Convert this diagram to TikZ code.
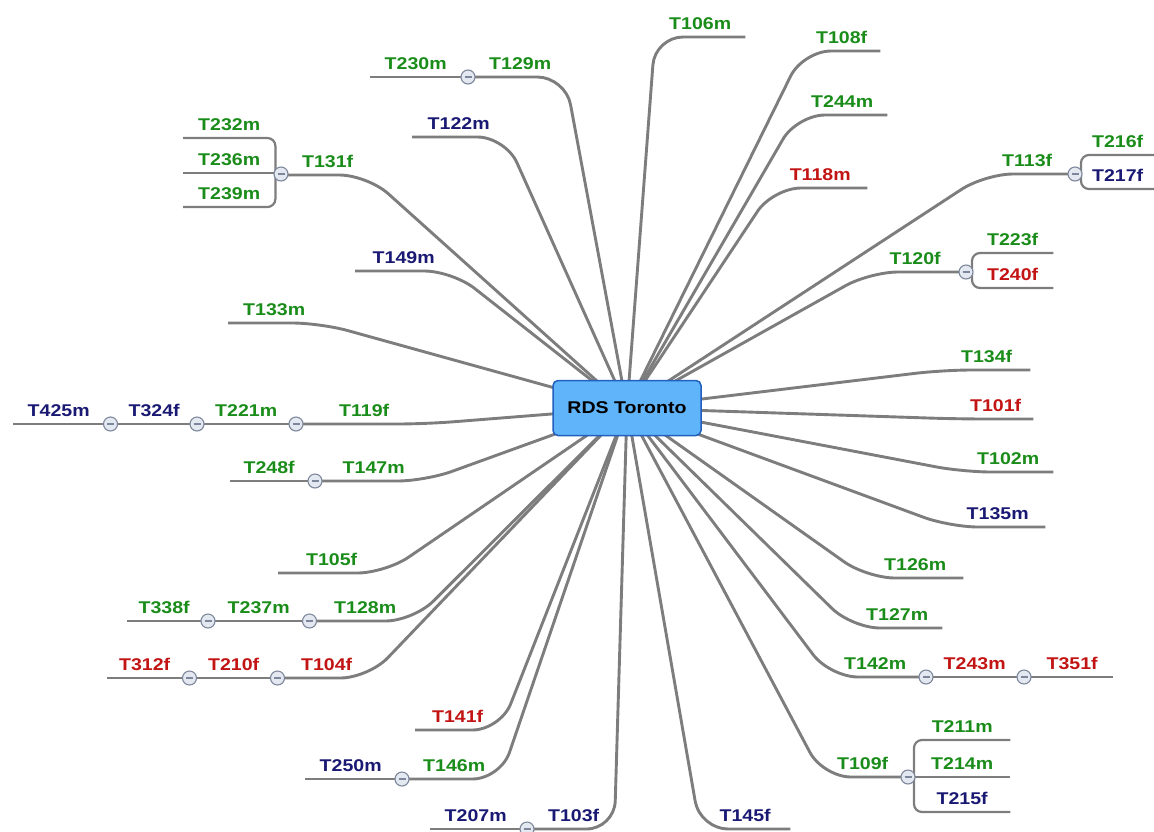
\documentclass[tikz,border=0pt]{standalone}
\usepackage{fontspec}
\setmainfont{Liberation Sans}[FakeStretch=1.15]
\usetikzlibrary{backgrounds}
\definecolor{tgreen}{RGB}{25,140,25}
\definecolor{tblue}{RGB}{25,25,115}
\definecolor{tred}{RGB}{195,20,20}
\definecolor{branchgray}{RGB}{125,125,125}
\definecolor{rootfill}{RGB}{95,180,250}
\definecolor{rootline}{RGB}{35,95,190}
\definecolor{foldfill}{RGB}{228,232,240}
\definecolor{foldline}{RGB}{125,135,155}
\begin{document}
\begin{tikzpicture}[x=1pt,y=-1pt,
    topic/.style={anchor=south west,inner xsep=0pt,inner ysep=7pt,minimum width=#1pt,
      font=\bfseries\fontsize{17}{20}\selectfont},
    tg/.style={text=tgreen}, tb/.style={text=tblue}, tr/.style={text=tred},
    branch/.style={draw=branchgray,line width=2.9pt,rounded corners=28pt,line join=round},
    twig/.style={draw=branchgray,line width=2.2pt,rounded corners=8pt},
    fold/.style={circle,draw=foldline,fill=foldfill,line width=1.1pt,minimum size=14pt,inner sep=0pt,
      path picture={\draw[foldline,line width=1.3pt] ([xshift=-3.5pt]path picture bounding box.center)
        -- ([xshift=3.5pt]path picture bounding box.center);}}]
    \useasboundingbox (0,0) rectangle (1154,831);
    \node[draw=rootline,fill=rootfill,line width=1.5pt,rounded corners=5pt,minimum width=148pt,
      minimum height=55pt,font=\bfseries\fontsize{17}{20}\selectfont] (root) at (627,408) {RDS Toronto};
    % right side
    \node[topic=90,tg] (t106) at (655,37) {T106m};
    \node[topic=77,tg] (t108) at (803,51) {T108f};
    \node[topic=90,tg] (t244) at (797,115) {T244m};
    \node[topic=94,tr] (t118) at (773,188) {T118m};
    \node[topic=84,tg] (t113) at (985,174) {T113f};
    \node[topic=73,tg] (t216) at (1081,155) {T216f};
    \node[topic=73,tb] (t217) at (1081,189) {T217f};
    \node[topic=90,tg] (t120) at (870,272) {T120f};
    \node[topic=81,tg] (t223) at (972,253) {T223f};
    \node[topic=81,tr] (t240) at (972,288) {T240f};
    \node[topic=87,tg] (t134) at (943,370) {T134f};
    \node[topic=75,tr] (t101) at (958,419) {T101f};
    \node[topic=90,tg] (t102) at (963,472) {T102m};
    \node[topic=95,tb] (t135) at (950,527) {T135m};
    \node[topic=96,tg] (t126) at (867,578) {T126m};
    \node[topic=90,tg] (t127) at (852,628) {T127m};
    \node[topic=90,tg] (t142) at (830,677) {T142m};
    \node[topic=85,tr] (t243) at (932,677) {T243m};
    \node[topic=82,tr] (t351) at (1031,677) {T351f};
    \node[topic=79,tg] (t109) at (823,777) {T109f};
    \node[topic=96,tg] (t211) at (914,740) {T211m};
    \node[topic=96,tg] (t214) at (914,777) {T214m};
    \node[topic=96,tb] (t215) at (914,812) {T215f};
    \node[topic=90,tb] (t145) at (700,829) {T145f};
    % left side
    \node[topic=90,tg] (t129) at (475,77) {T129m};
    \node[topic=91,tg] (t230) at (370,77) {T230m};
    \node[topic=93,tb] (t122) at (412,137) {T122m};
    \node[topic=79,tg] (t131) at (288,175) {T131f};
    \node[topic=92,tg] (t232) at (183,138) {T232m};
    \node[topic=92,tg] (t236) at (183,173) {T236m};
    \node[topic=92,tg] (t239) at (183,207) {T239m};
    \node[topic=97,tb] (t149) at (355,271) {T149m};
    \node[topic=92,tg] (t133) at (228,323) {T133m};
    \node[topic=122,tg] (t119) at (303,424) {T119f};
    \node[topic=86,tg] (t221) at (203,424) {T221m};
    \node[topic=74,tb] (t324) at (117,424) {T324f};
    \node[topic=91,tb] (t425) at (13,424) {T425m};
    \node[topic=103,tg] (t147) at (322,481) {T147m};
    \node[topic=78,tg] (t248) at (230,481) {T248f};
    \node[topic=107,tg] (t105) at (278,573) {T105f};
    \node[topic=96,tg] (t128) at (317,621) {T128m};
    \node[topic=87,tg] (t237) at (215,621) {T237m};
    \node[topic=74,tg] (t338) at (127,621) {T338f};
    \node[topic=83,tr] (t104) at (285,678) {T104f};
    \node[topic=73,tr] (t210) at (197,678) {T210f};
    \node[topic=75,tr] (t312) at (107,678) {T312f};
    \node[topic=85,tr] (t141) at (415,730) {T141f};
    \node[topic=92,tg] (t146) at (408,779) {T146m};
    \node[topic=91,tb] (t250) at (305,779) {T250m};
    \node[topic=81,tb] (t103) at (533,829) {T103f};
    \node[topic=91,tb] (t207) at (430,829) {T207m};
    % fold buttons
    \node[fold] (f113) at (1075,174) {};
    \node[fold] (f120) at (966,272) {};
    \node[fold] (f142) at (926,677) {};
    \node[fold] (f243) at (1024,677) {};
    \node[fold] (f109) at (908,777) {};
    \node[fold] (f129) at (468,77) {};
    \node[fold] (f131) at (281,174) {};
    \node[fold] (f119) at (296,424) {};
    \node[fold] (f221) at (197,424) {};
    \node[fold] (f324) at (110.5,424) {};
    \node[fold] (f147) at (315,481) {};
    \node[fold] (f128) at (309.5,621) {};
    \node[fold] (f237) at (208,621) {};
    \node[fold] (f104) at (277.5,678) {};
    \node[fold] (f210) at (189.5,678) {};
    \node[fold] (f146) at (402,779) {};
    \node[fold] (f103) at (527,829) {};
    \begin{scope}[on background layer]
    \foreach \t in {t106,t108,t244,t118,t113,t120,t134,t101,t102,t135,t126,t127,t142,t109,t145}
        \draw[branch] (root.center) -- (\t.south west) -- (\t.south east);
    \foreach \t in {t129,t122,t131,t149,t133,t119,t147,t105,t128,t104,t141,t146,t103}
        \draw[branch] (root.center) -- (\t.south east) -- (\t.south west);
    % sub-topics
    \draw[twig] (t113.south east) -- (f113);
    \draw[twig] (t216.south east) -- (t216.south west) -- (t217.south west) -- (t217.south east);
    \draw[twig] (t120.south east) -- (f120);
    \draw[twig] (t223.south east) -- (t223.south west) -- (t240.south west) -- (t240.south east);
    \draw[twig] (t142.south east) -- (t243.south west) -- (t243.south east) -- (t351.south west) -- (t351.south east);
    \draw[twig] (t109.south east) -- (t214.south west) -- (t214.south east);
    \draw[twig] (t211.south east) -- (t211.south west) -- (t215.south west) -- (t215.south east);
    \draw[twig] (t129.south west) -- (t230.south east) -- (t230.south west);
    \draw[twig] (t131.south west) -- (f131);
    \draw[twig] (t232.south west) -- (t232.south east) -- (t239.south east) -- (t239.south west);
    \draw[twig] (t236.south west) -- (t236.south east);
    \draw[twig] (t119.south west) -- (t221.south east) -- (t221.south west) -- (t324.south east)
        -- (t324.south west) -- (t425.south east) -- (t425.south west);
    \draw[twig] (t147.south west) -- (t248.south east) -- (t248.south west);
    \draw[twig] (t128.south west) -- (t237.south east) -- (t237.south west) -- (t338.south east) -- (t338.south west);
    \draw[twig] (t104.south west) -- (t210.south east) -- (t210.south west) -- (t312.south east) -- (t312.south west);
    \draw[twig] (t146.south west) -- (t250.south east) -- (t250.south west);
    \draw[twig] (t103.south west) -- (t207.south east) -- (t207.south west);
    \end{scope}
\end{tikzpicture}
\end{document}
